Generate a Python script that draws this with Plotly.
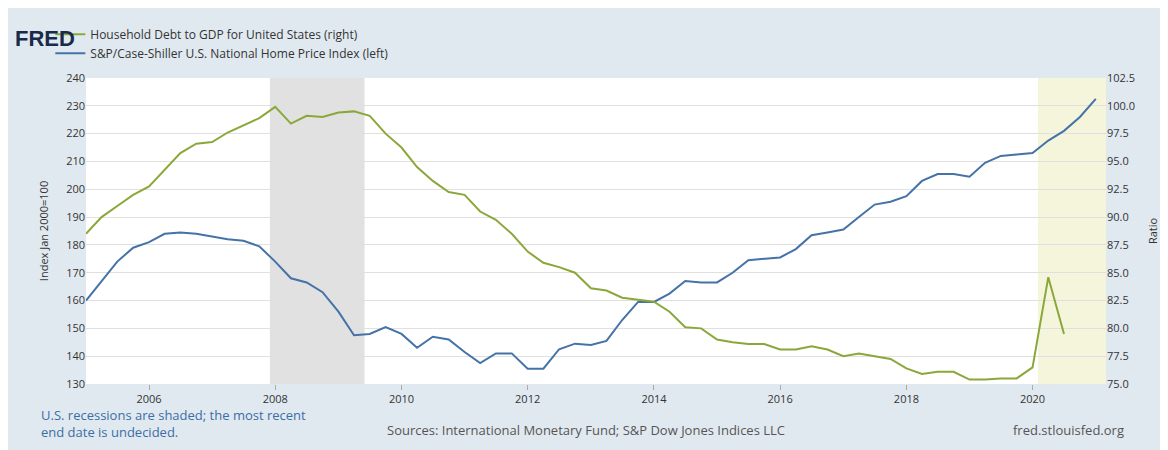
import plotly.graph_objects as go
import pandas as pd

q = pd.date_range("2005-01-01", periods=63, freq="QS")
debt = [88.5,90,91,92,92.75,94.25,95.75,96.6,96.75,97.6,98.25,98.9,99.9,98.4,99.1,99,99.4,99.5,99.1,97.5,
        96.25,94.5,93.25,92.25,92,90.5,89.75,88.5,86.9,85.9,85.5,85,83.6,83.4,82.75,82.6,82.4,81.5,80.1,80,
        79,78.75,78.6,78.6,78.1,78.1,78.4,78.1,77.5,77.75,77.5,77.25,76.4,75.9,76.1,76.1,75.4,75.4,75.5,75.5,
        76.5,84.6,79.5]
hp_dates = pd.date_range("2005-01-01", periods=65, freq="QS")
hpi = [160,167,174,179,181,184,184.5,184,183,182,181.5,179.5,174,168,166.5,163,156,147.5,148,150.5,
       148,143,147,146,141.5,137.5,141,141,135.5,135.5,142.5,144.5,144,145.5,153,159.5,159.5,162.5,167,166.5,
       166.5,170,174.5,175,175.5,178.5,183.5,184.5,185.5,190,194.5,195.5,197.5,203,205.5,205.5,204.5,209.5,212,212.5,
       213,217.5,221,226,232.5]
recessions = [("2007-12-01", "2009-06-01", "#e1e1e1"), ("2020-02-01", "2021-03-01", "#f5f5dc")]

fig = go.Figure()
fig.add_trace(go.Scatter(x=q, y=debt, name="Household Debt to GDP for United States (right)",
                         line=dict(color="#8aa83a", width=2), yaxis="y2"))
fig.add_trace(go.Scatter(x=hp_dates, y=hpi, name="S&P/Case-Shiller U.S. National Home Price Index (left)",
                         line=dict(color="#4572a7", width=2)))
for a, b, c in recessions:
    fig.add_vrect(x0=a, x1=b, fillcolor=c, opacity=1, line_width=0, layer="below")

ax = dict(showline=False, zeroline=False, tickfont=dict(size=11, color="#333"))
fig.update_layout(
    width=1168, height=450, paper_bgcolor="#e1e9f0", plot_bgcolor="white",
    margin=dict(l=78, r=70, t=61, b=74),
    font=dict(family="Open Sans, Arial", color="#333"),
    xaxis=dict(range=["2005-01-01", "2021-03-01"], dtick="M24", tick0="2006-01-01", tickformat="%Y",
               showgrid=False, ticks="outside", ticklen=5, tickcolor="#aaa", **ax),
    yaxis=dict(range=[130, 240], dtick=10, gridcolor="#e0e0e0",
               title=dict(text="Index Jan 2000=100", font=dict(size=11)), **ax),
    yaxis2=dict(range=[75, 102.5], dtick=2.5, tickformat=".1f", overlaying="y", side="right", showgrid=False,
                title=dict(text="Ratio", font=dict(size=11)), **ax),
    legend=dict(x=-0.035, y=1.19, xanchor="left", yanchor="top",
                bgcolor="rgba(0,0,0,0)", font=dict(size=12), traceorder="normal", tracegroupgap=0),
    showlegend=True,
)
fig.add_annotation(text="<b>FRED</b>", x=-0.072, y=1.175, xref="paper", yref="paper", xanchor="left", yanchor="top",
                   showarrow=False, font=dict(size=22, color="#1a2a4a", family="Arial Black, Arial"))
fig.add_annotation(text="U.S. recessions are shaded; the most recent<br>end date is undecided.", x=-0.046, y=-0.065,
                   xref="paper", yref="paper", xanchor="left", yanchor="top", align="left",
                   showarrow=False, font=dict(size=13, color="#3b6ea5"))
fig.add_annotation(text="Sources: International Monetary Fund; S&P Dow Jones Indices LLC", x=0.49, y=-0.149,
                   xref="paper", yref="paper", xanchor="center", yanchor="middle",
                   showarrow=False, font=dict(size=13, color="#555"))
fig.add_annotation(text="fred.stlouisfed.org", x=1.02, y=-0.149, xref="paper", yref="paper",
                   xanchor="right", yanchor="middle", showarrow=False, font=dict(size=13, color="#555"))
fig.write_html("out.html")
